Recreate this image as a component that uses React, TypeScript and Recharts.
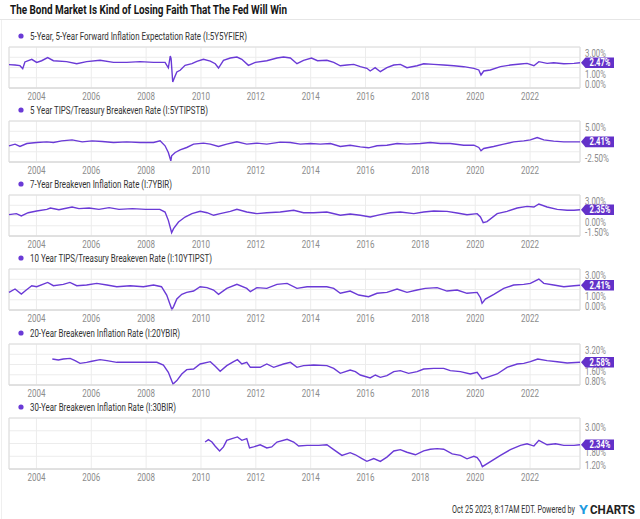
import { CartesianGrid, Line, LineChart, ReferenceArea, ReferenceDot, XAxis, YAxis } from "recharts";

const PURPLE = "#6a3ad6";
const BADGE = "#6331c9";
const FONT = "Roboto, sans-serif";

const TITLE = "The Bond Market Is Kind of Losing Faith That The Fed Will Win";
const FOOTER = "Oct 25 2023, 8:17AM EDT. Powered by";

const SERIES_NAMES = [
  "5-Year, 5-Year Forward Inflation Expectation Rate (I:5Y5YFIER)",
  "5 Year TIPS/Treasury Breakeven Rate (I:5YTIPSTB)",
  "7-Year Breakeven Inflation Rate (I:7YBIR)",
  "10 Year TIPS/Treasury Breakeven Rate (I:10YTIPST)",
  "20-Year Breakeven Inflation Rate (I:20YBIR)",
  "30-Year Breakeven Inflation Rate (I:30BIR)",
];

const YEARS = [2004, 2006, 2008, 2010, 2012, 2014, 2016, 2018, 2020, 2022];
const X_DOMAIN: [number, number] = [2003.0, 2023.82];

const Y_TICKS = [
  [0, 1, 2, 3, 4],
  [-2.5, 0, 2.5, 5, 7.5],
  [-1.5, 0, 1.5, 3, 4.5],
  [0, 1, 2, 3, 4],
  [0.8, 1.6, 2.4, 3.2, 4.0],
  [1.2, 1.8, 2.4, 3.0, 3.6],
];

// [year, percent]
const FIVE_Y5Y: [number, number][] = [
  [2003.0, 2.28], [2003.22, 2.25], [2003.4, 2.18], [2003.5, 1.89], [2003.58, 2.54], [2003.83, 2.8],
  [2004.01, 2.5], [2004.19, 2.66], [2004.41, 2.96], [2004.62, 2.66], [2005.1, 2.57], [2005.47, 2.37],
  [2005.83, 2.57], [2006.32, 2.7], [2006.81, 2.5], [2007.29, 2.5], [2007.78, 2.57], [2008.27, 2.5],
  [2008.69, 2.5], [2008.81, 1.97], [2008.88, 3.12], [2008.91, 2.86], [2008.97, 0.59], [2009.02, 0.92],
  [2009.12, 1.57], [2009.24, 1.73], [2009.42, 2.21], [2009.67, 2.37], [2009.85, 2.6], [2010.09, 2.8],
  [2010.34, 2.63], [2010.52, 2.37], [2010.64, 1.95], [2010.82, 2.7], [2011.07, 2.93], [2011.31, 3.02],
  [2011.49, 2.8], [2011.73, 2.21], [2011.98, 2.5], [2012.4, 2.66], [2012.77, 2.93], [2013.01, 3.02],
  [2013.26, 2.93], [2013.5, 2.37], [2013.74, 2.7], [2014.03, 2.92], [2014.25, 2.66], [2014.59, 2.7],
  [2014.84, 2.5], [2015.08, 2.17], [2015.32, 2.24], [2015.57, 2.3], [2015.81, 2.08], [2016.05, 1.92],
  [2016.17, 1.66], [2016.35, 1.98], [2016.54, 1.59], [2016.78, 1.98], [2017.03, 2.24], [2017.27, 2.3],
  [2017.51, 1.98], [2017.88, 2.17], [2018.12, 2.37], [2018.49, 2.3], [2018.85, 2.24], [2019.22, 2.17],
  [2019.58, 2.08], [2019.95, 1.92], [2020.13, 1.76], [2020.21, 1.27], [2020.31, 1.66], [2020.55, 1.76],
  [2020.92, 2.08], [2021.28, 2.24], [2021.65, 2.34], [2021.89, 2.4], [2022.14, 2.17], [2022.32, 2.57],
  [2022.62, 2.4], [2022.86, 2.47], [2023.23, 2.37], [2023.6, 2.4], [2023.82, 2.47],
];

const FIVE_Y_TIPS: [number, number][] = [
  [2003.0, 1.45], [2003.22, 1.85], [2003.4, 1.28], [2003.65, 2.01], [2004.01, 2.26], [2004.38, 2.42],
  [2004.62, 2.26], [2004.92, 2.66], [2005.3, 2.9], [2005.67, 2.42], [2006.03, 2.66], [2006.4, 2.5],
  [2006.81, 2.26], [2007.29, 2.42], [2007.78, 2.26], [2008.27, 2.26], [2008.51, 2.66], [2008.69, 1.45],
  [2008.81, -0.18], [2008.9, -2.2], [2008.93, -0.99], [2009.06, -0.18], [2009.24, 0.47], [2009.48, 1.04],
  [2009.73, 1.85], [2010.09, 2.1], [2010.34, 1.85], [2010.64, 1.28], [2010.94, 1.85], [2011.31, 2.42],
  [2011.67, 1.85], [2012.04, 2.1], [2012.4, 1.85], [2012.89, 2.34], [2013.26, 2.26], [2013.62, 1.85],
  [2014.0, 2.01], [2014.35, 1.85], [2014.72, 2.01], [2015.08, 1.28], [2015.44, 1.6], [2015.81, 1.2],
  [2016.11, 0.96], [2016.42, 1.45], [2016.78, 1.6], [2017.15, 2.01], [2017.51, 1.85], [2018.0, 2.01],
  [2018.36, 2.26], [2018.73, 2.01], [2019.09, 2.01], [2019.58, 1.6], [2019.95, 1.6], [2020.13, 1.04],
  [2020.21, 0.23], [2020.31, 0.8], [2020.67, 1.28], [2021.04, 1.85], [2021.4, 2.42], [2021.77, 2.66],
  [2022.01, 2.9], [2022.26, 3.48], [2022.5, 2.9], [2022.86, 2.58], [2023.23, 2.42], [2023.6, 2.42],
  [2023.82, 2.41],
];

const SEVEN_Y: [number, number][] = [
  [2003.0, 1.62], [2003.27, 1.77], [2003.45, 1.43], [2003.7, 1.91], [2004.01, 2.16], [2004.38, 2.4],
  [2004.51, 2.6], [2004.82, 2.35], [2005.3, 2.74], [2005.55, 2.5], [2005.92, 2.6], [2006.28, 2.4],
  [2006.65, 2.65], [2007.01, 2.4], [2007.5, 2.5], [2007.98, 2.4], [2008.5, 2.4], [2008.69, 2.01],
  [2008.81, 0.79], [2008.93, -1.02], [2009.0, -0.43], [2009.18, 0.55], [2009.42, 1.28], [2009.67, 1.77],
  [2009.97, 2.11], [2010.22, 1.91], [2010.46, 1.53], [2010.7, 1.77], [2011.07, 2.11], [2011.31, 2.4],
  [2011.67, 2.01], [2012.04, 1.77], [2012.4, 1.91], [2012.89, 2.01], [2013.38, 2.26], [2013.74, 1.91],
  [2014.1, 1.91], [2014.59, 2.01], [2015.08, 1.53], [2015.44, 1.72], [2015.81, 1.53], [2016.17, 1.28],
  [2016.54, 1.62], [2016.91, 1.91], [2017.27, 2.01], [2017.76, 1.77], [2018.12, 2.01], [2018.49, 2.16],
  [2018.97, 2.11], [2019.34, 1.86], [2019.7, 1.62], [2020.07, 1.77], [2020.19, 1.28], [2020.29, 0.45],
  [2020.43, 0.6], [2020.8, 1.77], [2021.16, 2.11], [2021.53, 2.6], [2021.89, 2.84], [2022.14, 2.74],
  [2022.32, 3.18], [2022.62, 2.74], [2022.99, 2.4], [2023.35, 2.26], [2023.6, 2.26], [2023.82, 2.35],
];

const TEN_Y_TIPS: [number, number][] = [
  [2003.0, 1.72], [2003.22, 2.05], [2003.45, 1.56], [2003.63, 1.95], [2003.83, 2.37], [2004.01, 2.27],
  [2004.41, 2.69], [2004.62, 2.37], [2004.98, 2.5], [2005.22, 2.69], [2005.47, 2.37], [2005.83, 2.44],
  [2006.2, 2.6], [2006.57, 2.44], [2006.93, 2.27], [2007.42, 2.37], [2007.9, 2.27], [2008.27, 2.44],
  [2008.56, 2.27], [2008.75, 1.46], [2008.88, 0.49], [2008.94, 0.05], [2009.0, 0.33], [2009.12, 1.07],
  [2009.3, 1.53], [2009.48, 1.72], [2009.73, 1.85], [2009.97, 2.27], [2010.22, 2.18], [2010.46, 1.95],
  [2010.64, 1.53], [2010.94, 2.11], [2011.31, 2.5], [2011.67, 2.11], [2011.8, 1.79], [2012.04, 2.18],
  [2012.4, 2.11], [2012.77, 2.5], [2013.14, 2.6], [2013.5, 2.11], [2013.87, 2.27], [2014.1, 2.27],
  [2014.59, 2.27], [2014.84, 2.11], [2015.08, 1.63], [2015.44, 1.85], [2015.75, 1.46], [2016.11, 1.3],
  [2016.42, 1.63], [2016.78, 1.72], [2017.15, 2.05], [2017.51, 1.72], [2017.88, 1.95], [2018.18, 2.11],
  [2018.61, 2.18], [2018.97, 1.85], [2019.34, 1.95], [2019.7, 1.63], [2020.07, 1.72], [2020.19, 1.2],
  [2020.25, 0.65], [2020.37, 1.07], [2020.68, 1.53], [2021.04, 2.11], [2021.4, 2.44], [2021.77, 2.5],
  [2022.01, 2.6], [2022.32, 3.02], [2022.5, 2.6], [2022.86, 2.44], [2023.23, 2.27], [2023.6, 2.37],
  [2023.82, 2.41],
];

const TWENTY_Y: [number, number][] = [
  [2004.58, 2.83], [2004.8, 2.75], [2004.98, 2.83], [2005.23, 2.88], [2005.41, 2.7], [2005.59, 2.49],
  [2005.83, 2.57], [2006.02, 2.65], [2006.32, 2.78], [2006.57, 2.7], [2006.93, 2.57], [2007.42, 2.57],
  [2007.9, 2.57], [2008.39, 2.57], [2008.63, 2.36], [2008.81, 1.79], [2008.98, 0.88], [2009.12, 1.14],
  [2009.3, 1.66], [2009.48, 2.0], [2009.73, 2.05], [2009.97, 2.44], [2010.34, 2.62], [2010.52, 2.26],
  [2010.7, 1.87], [2010.94, 2.31], [2011.19, 2.62], [2011.33, 2.78], [2011.49, 2.44], [2011.67, 2.57],
  [2011.8, 2.18], [2012.16, 2.18], [2012.4, 2.44], [2012.65, 2.18], [2013.01, 2.44], [2013.26, 2.57],
  [2013.5, 2.18], [2013.74, 2.31], [2014.11, 2.36], [2014.59, 2.31], [2014.84, 2.1], [2015.08, 1.71],
  [2015.44, 1.97], [2015.63, 1.84], [2015.81, 1.58], [2016.17, 1.35], [2016.36, 1.58], [2016.54, 1.4],
  [2016.78, 1.53], [2017.03, 1.84], [2017.27, 1.92], [2017.57, 1.71], [2017.88, 1.84], [2018.12, 2.05],
  [2018.49, 2.1], [2018.85, 2.1], [2019.09, 1.92], [2019.46, 1.84], [2019.82, 1.66], [2020.07, 1.79],
  [2020.25, 1.27], [2020.43, 1.4], [2020.8, 1.66], [2021.16, 2.18], [2021.53, 2.44], [2021.77, 2.49],
  [2022.01, 2.62], [2022.28, 2.83], [2022.62, 2.7], [2022.99, 2.62], [2023.35, 2.52], [2023.82, 2.58],
];

const THIRTY_Y: [number, number][] = [
  [2010.15, 2.47], [2010.27, 2.58], [2010.4, 2.47], [2010.52, 2.27], [2010.68, 2.05], [2010.82, 2.24],
  [2010.94, 2.55], [2011.13, 2.63], [2011.33, 2.71], [2011.49, 2.55], [2011.67, 2.63], [2011.77, 2.19],
  [2011.92, 2.24], [2012.16, 2.34], [2012.4, 2.19], [2012.58, 2.24], [2012.77, 2.47], [2013.14, 2.6],
  [2013.38, 2.47], [2013.56, 2.28], [2013.87, 2.31], [2014.29, 2.31], [2014.59, 2.34], [2014.84, 2.11],
  [2015.14, 1.84], [2015.44, 1.97], [2015.63, 1.87], [2015.87, 1.69], [2016.05, 1.56], [2016.3, 1.69],
  [2016.54, 1.56], [2016.78, 1.76], [2017.03, 2.05], [2017.27, 2.11], [2017.51, 1.99], [2017.82, 1.87],
  [2018.12, 2.05], [2018.36, 2.13], [2018.61, 2.16], [2018.85, 2.13], [2019.16, 1.91], [2019.46, 1.84],
  [2019.7, 1.68], [2019.95, 1.8], [2020.07, 1.74], [2020.18, 1.55], [2020.26, 1.31], [2020.92, 1.84],
  [2021.28, 2.11], [2021.65, 2.31], [2021.89, 2.39], [2022.14, 2.28], [2022.32, 2.55], [2022.62, 2.34],
  [2022.93, 2.39], [2023.23, 2.31], [2023.6, 2.31], [2023.82, 2.34],
];

const SERIES = [FIVE_Y5Y, FIVE_Y_TIPS, SEVEN_Y, TEN_Y_TIPS, TWENTY_Y, THIRTY_Y];

// layout of each panel (plot top / plot height in page px, legend text width)
const LAYOUT = [
  { top: 47, height: 41, legendW: 217 },
  { top: 121, height: 41, legendW: 178 },
  { top: 195, height: 41, legendW: 142 },
  { top: 269, height: 41, legendW: 182 },
  { top: 344, height: 41, legendW: 150 },
  { top: 418, height: 51, legendW: 146 },
];

const fmtPct = (v: number) => `${v.toFixed(2)}%`;

function pctWidth(s: string) {
  let w = 0;
  for (const c of s) w += c === "." ? 2 : c === "%" ? 6 : c === "-" ? 3 : 4.3;
  return w;
}

function YTick(props: any) {
  const { y, payload, hide, badgeV, pxPerUnit } = props;
  if (payload.value === hide) return null;
  // the value badge sits over this label in the original, so it is not drawn
  const dy = (badgeV - payload.value) * pxPerUnit;
  if (dy > -3 && dy < 10.5) return null;
  const s = fmtPct(payload.value);
  return (
    <text x={585} y={y} fontSize={10} fill="#8c8c8c" fontFamily={FONT} textLength={pctWidth(s)} lengthAdjust="spacingAndGlyphs">
      {s}
    </text>
  );
}

function XTick(props: any) {
  const { x, y, payload } = props;
  return (
    <text x={x} y={y + 10} fontSize={10} fill="#8c8c8c" fontFamily={FONT} textAnchor="middle" textLength={18} lengthAdjust="spacingAndGlyphs">
      {payload.value}
    </text>
  );
}

function Badge(props: any) {
  const { cx, cy, value } = props;
  const s = fmtPct(value);
  return (
    <g>
      <polygon
        points={`${cx + 1},${cy} ${cx + 5.5},${cy - 5.3} ${cx + 34},${cy - 5.3} ${cx + 34},${cy + 5.3} ${cx + 5.5},${cy + 5.3}`}
        fill={BADGE}
      />
      <text x={cx + 20} y={cy + 3.5} fontSize={10} fontWeight={700} fill="#fff" fontFamily={FONT} textAnchor="middle" textLength={21} lengthAdjust="spacingAndGlyphs">
        {s}
      </text>
    </g>
  );
}

function Panel({ index }: { index: number }) {
  const lay = LAYOUT[index];
  const ticks = Y_TICKS[index];
  const domain: [number, number] = [ticks[0], ticks[ticks.length - 1]];
  const data = SERIES[index].map(([t, v]) => ({ t, v }));
  const last = data[data.length - 1];
  const pxPerUnit = lay.height / (domain[1] - domain[0]);
  const mt = 6;
  return (
    <div style={{ position: "absolute", left: 0, top: lay.top - mt }}>
      <LineChart width={640} height={mt + lay.height + 20} data={data} margin={{ top: mt, right: 0, bottom: 0, left: 9 }}>
        <CartesianGrid stroke="#ececec" />
        <ReferenceArea x1={X_DOMAIN[0]} x2={X_DOMAIN[1]} y1={domain[0]} y2={domain[1]} fill="none" stroke="#dedede" />
        <XAxis
          dataKey="t"
          type="number"
          domain={X_DOMAIN}
          ticks={YEARS}
          interval={0}
          tickLine={false}
          tickSize={0}
          tickMargin={2}
          height={20}
          axisLine={{ stroke: "#d8d8d8" }}
          tick={(p: any) => <XTick {...p} />}
        />
        <YAxis
          orientation="right"
          type="number"
          domain={domain}
          ticks={ticks}
          interval={0}
          width={60}
          tickLine={false}
          axisLine={false}
          tick={(p: any) => <YTick {...p} hide={domain[1]} badgeV={last.v} pxPerUnit={pxPerUnit} />}
        />
        <Line type="linear" dataKey="v" stroke={PURPLE} strokeWidth={1.4} dot={false} isAnimationActive={false} />
        <ReferenceDot
          x={last.t}
          y={last.v}
          r={0}
          ifOverflow="visible"
          zIndex={2000}
          shape={(p: any) => <Badge {...p} value={last.v} />}
        />
      </LineChart>
    </div>
  );
}

export default function App() {
  return (
    <div style={{ position: "relative", width: 640, height: 519, background: "#fff", fontFamily: FONT, overflow: "hidden" }}>
      <style>{"body{margin:0}"}</style>
      <svg width={640} height={519} style={{ position: "absolute", left: 0, top: 0 }}>
        <text x={10} y={13.5} fontSize={12.5} fontWeight={700} fill="#161616" fontFamily={FONT} textLength={277} lengthAdjust="spacingAndGlyphs">
          {TITLE}
        </text>
        <line x1={0} x2={640} y1={19.5} y2={19.5} stroke="#e6e6e6" />
        <line x1={1.5} x2={1.5} y1={20} y2={519} stroke="#efefef" />
        {LAYOUT.map((lay, i) => (
          <g key={i}>
            <circle cx={21} cy={lay.top - 11} r={2.6} fill={PURPLE} />
            <text x={30} y={lay.top - 7.5} fontSize={10} fill="#333" fontFamily={FONT} textLength={lay.legendW} lengthAdjust="spacingAndGlyphs">
              {SERIES_NAMES[i]}
            </text>
          </g>
        ))}
        <text x={452} y={513} fontSize={10} fill="#333" fontFamily={FONT} textLength={123} lengthAdjust="spacingAndGlyphs">
          {FOOTER}
        </text>
        <text x={579} y={514} fontSize={13} fontWeight={700} fill="#1e9be0" fontFamily={FONT} textLength={9} lengthAdjust="spacingAndGlyphs">
          Y
        </text>
        <text x={590} y={514} fontSize={13} fontWeight={700} fill="#222" fontFamily={FONT} textLength={45} lengthAdjust="spacingAndGlyphs">
          CHARTS
        </text>
      </svg>
      {LAYOUT.map((_, i) => (
        <Panel key={i} index={i} />
      ))}
    </div>
  );
}
